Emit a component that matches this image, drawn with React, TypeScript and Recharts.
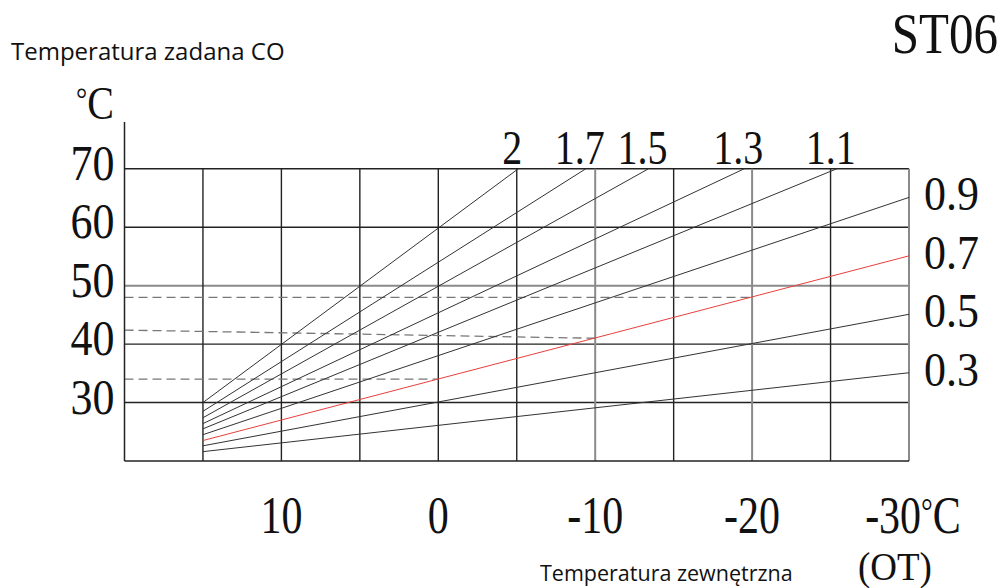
import React from "react";
import { LineChart, Line, XAxis, YAxis, ReferenceLine } from "recharts";

// outdoor temperature (OT) on x, reversed; set flow temperature (CO) on y
const OT_TICKS = [10, 0, -10, -20, -30];
const CO_TICKS = [30, 40, 50, 60, 70];
const GRID_OT = [15, 10, 5, 0, -5, -10, -15, -20, -25, -30];
const GRID_CO = [30, 40, 50, 60, 70];
const LIGHT_GRID_OT = [-10, -20, -30];
const LIGHT_GRID_CO = [50];

// heating curves: start at OT 15, end at 70 or at OT -30
const CURVE_2_0 = [{ ot: 15, t: 30.0 }, { ot: -5.1, t: 70 }];
const CURVE_1_7 = [{ ot: 15, t: 28.5 }, { ot: -9.4, t: 70 }];
const CURVE_1_5 = [{ ot: 15, t: 27.4 }, { ot: -13.4, t: 70 }];
const CURVE_1_3 = [{ ot: 15, t: 26.4 }, { ot: -19.5, t: 70 }];
const CURVE_1_1 = [{ ot: 15, t: 25.5 }, { ot: -25.4, t: 70 }];
const CURVE_0_9 = [{ ot: 15, t: 24.5 }, { ot: -30, t: 65.1 }];
const CURVE_0_7 = [{ ot: 15, t: 23.5 }, { ot: -30, t: 55.1 }];
const CURVE_0_5 = [{ ot: 15, t: 22.6 }, { ot: -30, t: 45.1 }];
const CURVE_0_3 = [{ ot: 15, t: 21.6 }, { ot: -30, t: 35.1 }];

// dashed helper lines
const DASH_48 = [{ ot: 20, t: 48 }, { ot: -20, t: 48 }];
const DASH_SLANT = [{ ot: 20, t: 42.4 }, { ot: -10, t: 41 }];
const DASH_34 = [{ ot: 20, t: 34 }, { ot: 0, t: 34 }];

const TOP_CURVES = [
  { name: "2", data: CURVE_2_0 },
  { name: "1.7", data: CURVE_1_7 },
  { name: "1.5", data: CURVE_1_5 },
  { name: "1.3", data: CURVE_1_3 },
  { name: "1.1", data: CURVE_1_1 },
];
const RIGHT_CURVES = [
  { name: "0.9", data: CURVE_0_9, color: "#333" },
  { name: "0.7", data: CURVE_0_7, color: "#e8403c" },
  { name: "0.5", data: CURVE_0_5, color: "#333" },
  { name: "0.3", data: CURVE_0_3, color: "#333" },
];
const DASHES = [DASH_48, DASH_SLANT, DASH_34];

const SERIF = '"Liberation Serif", "DejaVu Serif", serif';
const SANS = '"Open Sans", "Noto Sans", sans-serif';

const Stretched = ({ x, y, text, size, sy = 1.15, anchor = "middle", degC = false }: any) => (
  <g transform={`translate(${x},${y}) scale(1,${sy})`}>
    <text x={0} y={0} textAnchor={anchor} fontFamily={SERIF} fontSize={size} fill="#111">
      {text}
      {degC && (
        <>
          <tspan fontSize={size * 0.7} dy={-size * 0.2}>°</tspan>
          <tspan dy={size * 0.2}>C</tspan>
        </>
      )}
    </text>
  </g>
);

const YTick = ({ x, y, payload }: any) => (
  <Stretched x={x} y={y + 11} text={String(payload.value)} size={44} anchor="end" />
);

const XTick = ({ x, y, payload }: any) => (
  <Stretched
    x={x + (payload.value === -30 ? 4 : 0)}
    y={y + 70}
    text={String(payload.value)}
    degC={payload.value === -30}
    size={42}
    sy={1.25}
  />
);

const endLabel = (name: string, len: number, side: "top" | "right") => (props: any) => {
  const { x, y, index } = props;
  if (index !== len - 1) return null;
  if (side === "top") return <Stretched key={name} x={x - 6} y={y - 5} text={name} size={40} sy={1.2} />;
  return <Stretched key={name} x={x + 15} y={y + 13} text={name} size={44} sy={1.12} anchor="start" />;
};

export default function App() {
  return (
    <div style={{ position: "absolute", left: 0, top: 0, width: 1005, height: 588, background: "#fff" }}>
      <LineChart width={1005} height={588} margin={{ top: 122, right: 96, left: 0, bottom: 0 }}>
        <XAxis
          type="number"
          dataKey="ot"
          domain={[-30, 20]}
          reversed
          allowDataOverflow
          ticks={OT_TICKS}
          height={127}
          tickLine={false}
          tickSize={0}
          axisLine={{ stroke: "#222", strokeWidth: 1.5 }}
          tick={<XTick />}
        />
        <YAxis
          type="number"
          dataKey="t"
          domain={[20, 78]}
          allowDataOverflow
          ticks={CO_TICKS}
          width={124.5}
          tickLine={false}
          tickSize={8}
          axisLine={{ stroke: "#222", strokeWidth: 1.5 }}
          tick={<YTick />}
        />
        {GRID_CO.map((v) => (
          <ReferenceLine
            key={"h" + v}
            y={v}
            stroke={LIGHT_GRID_CO.includes(v) ? "#8a8a8a" : "#222"}
            strokeWidth={LIGHT_GRID_CO.includes(v) ? 2 : 1.4}
          />
        ))}
        {GRID_OT.map((v) => (
          <ReferenceLine
            key={"v" + v}
            segment={[{ x: v, y: 20 }, { x: v, y: 70 }]}
            stroke={LIGHT_GRID_OT.includes(v) ? "#8a8a8a" : "#222"}
            strokeWidth={LIGHT_GRID_OT.includes(v) ? 2 : 1.4}
          />
        ))}
        {DASHES.map((d, i) => (
          <Line
            key={"d" + i}
            data={d}
            dataKey="t"
            stroke="#777"
            strokeWidth={1.3}
            strokeDasharray="9 5"
            dot={false}
            isAnimationActive={false}
          />
        ))}
        {TOP_CURVES.map((c) => (
          <Line
            key={c.name}
            data={c.data}
            dataKey="t"
            stroke="#333"
            strokeWidth={1}
            dot={false}
            isAnimationActive={false}
            label={endLabel(c.name, c.data.length, "top")}
          />
        ))}
        {RIGHT_CURVES.map((c) => (
          <Line
            key={c.name}
            data={c.data}
            dataKey="t"
            stroke={c.color}
            strokeWidth={1}
            dot={false}
            isAnimationActive={false}
            label={endLabel(c.name, c.data.length, "right")}
          />
        ))}
      </LineChart>
      <svg width={1005} height={588} style={{ position: "absolute", left: 0, top: 0, pointerEvents: "none" }}>
        <text x={11} y={60} fontFamily={SANS} fontSize={24} fill="#111">
          Temperatura zadana CO
        </text>
        <Stretched x={998} y={53} text="ST06" size={49} sy={1.17} anchor="end" />
        <Stretched x={76} y={119} text="" degC size={40} sy={1.15} anchor="start" />
        <text x={540} y={581} fontFamily={SANS} fontSize={21.5} fill="#111">
          Temperatura zewnętrzna
        </text>
        <Stretched x={858} y={580} text="(OT)" size={37} sy={1.1} anchor="start" />
      </svg>
    </div>
  );
}
